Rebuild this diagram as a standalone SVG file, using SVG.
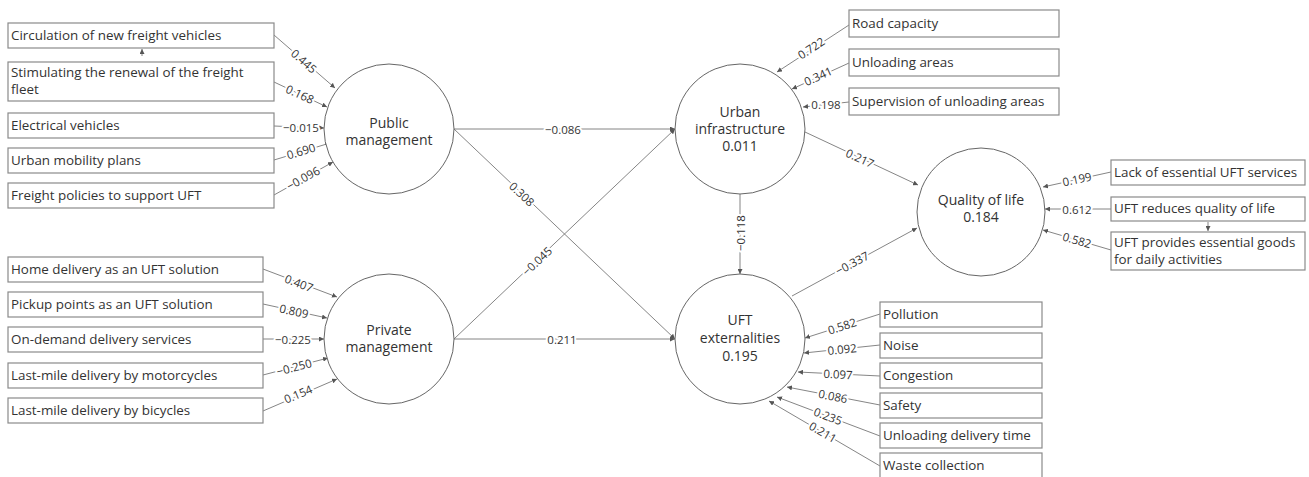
<svg xmlns="http://www.w3.org/2000/svg" width="1309" height="477" viewBox="0 0 1309 477">
<defs>
<marker id="ah" viewBox="0 0 10 10" refX="10" refY="5" markerWidth="5" markerHeight="5" markerUnits="userSpaceOnUse" orient="auto">
<path d="M0,0 L10,5 L0,10 z" fill="#555"/>
</marker>
</defs>
<style>
.box{fill:#fff;stroke:#8a8a8a;stroke-width:1.2}
.lv{fill:#fff;stroke:#666;stroke-width:1}
.bt{font-family:"Open Sans","Liberation Sans",sans-serif;font-size:13.4px;fill:#333}
.ct{font-family:"Open Sans","Liberation Sans",sans-serif;font-size:14px;fill:#333;text-anchor:middle}
.ln{stroke:#777;stroke-width:0.9;fill:none;marker-end:url(#ah)}
.lb{font-family:"Open Sans","Liberation Sans",sans-serif;font-size:11.5px;fill:#333;text-anchor:middle;dominant-baseline:central;stroke:#fff;stroke-width:4;paint-order:stroke;stroke-linejoin:round}
</style>
<rect width="1309" height="477" fill="#fff"/>

<g id="connectors">
<!-- Public management indicators -->
<line class="ln" x1="274" y1="35" x2="335" y2="88"/>
<line class="ln" x1="274" y1="82" x2="327" y2="107"/>
<line class="ln" x1="274" y1="126" x2="324" y2="128"/>
<line class="ln" x1="274" y1="160" x2="330" y2="143"/>
<line class="ln" x1="274" y1="195" x2="333" y2="162"/>
<line class="ln" x1="142" y1="56" x2="142" y2="49"/>
<!-- Private management indicators -->
<line class="ln" x1="263" y1="269" x2="337" y2="297"/>
<line class="ln" x1="263" y1="304" x2="327" y2="318"/>
<line class="ln" x1="263" y1="339" x2="324" y2="339"/>
<line class="ln" x1="263" y1="375" x2="328" y2="358"/>
<line class="ln" x1="263" y1="411" x2="337" y2="379"/>
<!-- structural paths -->
<line class="ln" x1="454" y1="129" x2="675" y2="129"/>
<line class="ln" x1="454" y1="129" x2="675" y2="339"/>
<line class="ln" x1="454" y1="339" x2="675" y2="129"/>
<line class="ln" x1="454" y1="339" x2="675" y2="339"/>
<line class="ln" x1="740" y1="194" x2="740" y2="274"/>
<line class="ln" x1="805" y1="132" x2="918" y2="185"/>
<line class="ln" x1="792" y1="296" x2="917" y2="228"/>
<!-- Urban infrastructure indicators -->
<line class="ln" x1="849" y1="25" x2="777" y2="72"/>
<line class="ln" x1="849" y1="63" x2="792" y2="89"/>
<line class="ln" x1="849" y1="102" x2="803" y2="107"/>
<!-- UFT externalities indicators -->
<line class="ln" x1="880" y1="314" x2="805" y2="338"/>
<line class="ln" x1="880" y1="345" x2="804" y2="353"/>
<line class="ln" x1="880" y1="376" x2="798" y2="372"/>
<line class="ln" x1="880" y1="405" x2="787" y2="387"/>
<line class="ln" x1="880" y1="436" x2="777" y2="397"/>
<line class="ln" x1="880" y1="466" x2="769" y2="401"/>
<!-- Quality of life indicators -->
<line class="ln" x1="1111" y1="172" x2="1043" y2="187"/>
<line class="ln" x1="1111" y1="209" x2="1045" y2="209"/>
<line class="ln" x1="1111" y1="250" x2="1043" y2="230"/>
<line class="ln" x1="1208" y1="222" x2="1208" y2="231"/>

<!-- labels -->
<text class="lb" transform="translate(304,61) rotate(41)">0.445</text>
<text class="lb" transform="translate(300,94) rotate(25)">0.168</text>
<text class="lb" transform="translate(301,127)">−0.015</text>
<text class="lb" transform="translate(301,151) rotate(-17)">0.690</text>
<text class="lb" transform="translate(303,178) rotate(-29)">−0.096</text>
<text class="lb" transform="translate(299,283) rotate(21)">0.407</text>
<text class="lb" transform="translate(294,311) rotate(12)">0.809</text>
<text class="lb" transform="translate(293,339)">−0.225</text>
<text class="lb" transform="translate(294,367) rotate(-15)">−0.250</text>
<text class="lb" transform="translate(298,394) rotate(-23)">0.154</text>
<text class="lb" transform="translate(563,129)">−0.086</text>
<text class="lb" transform="translate(522,194) rotate(43.5)">0.308</text>
<text class="lb" transform="translate(537,261) rotate(-43.5)">−0.045</text>
<text class="lb" transform="translate(562,339)">0.211</text>
<text class="lb" transform="translate(740,233) rotate(-90)">−0.118</text>
<text class="lb" transform="translate(860,158) rotate(25)">0.217</text>
<text class="lb" transform="translate(852,263) rotate(-28.5)">−0.337</text>
<text class="lb" transform="translate(811,48) rotate(-33)">0.722</text>
<text class="lb" transform="translate(818,76) rotate(-24.5)">0.341</text>
<text class="lb" transform="translate(826,104)">0.198</text>
<text class="lb" transform="translate(842,326) rotate(-17.7)">0.582</text>
<text class="lb" transform="translate(842,349) rotate(-6)">0.092</text>
<text class="lb" transform="translate(838,374) rotate(3)">0.097</text>
<text class="lb" transform="translate(833,396) rotate(11)">0.086</text>
<text class="lb" transform="translate(828,416) rotate(21)">0.235</text>
<text class="lb" transform="translate(823,432) rotate(30)">0.211</text>
<text class="lb" transform="translate(1077,179) rotate(-12)">0.199</text>
<text class="lb" transform="translate(1077,209)">0.612</text>
<text class="lb" transform="translate(1077,240) rotate(16)">0.582</text>
</g>

<!-- Public management indicators -->
<g id="pm1"><rect class="box" x="8" y="23" width="266" height="25"/><text class="bt" x="11" y="40">Circulation of new freight vehicles</text></g>
<g id="pm2"><rect class="box" x="8" y="62" width="266" height="39"/><text class="bt" x="11" y="77">Stimulating the renewal of the freight</text><text class="bt" x="11" y="94">fleet</text></g>
<g id="pm3"><rect class="box" x="8" y="113" width="266" height="25"/><text class="bt" x="11" y="130">Electrical vehicles</text></g>
<g id="pm4"><rect class="box" x="8" y="148" width="266" height="25"/><text class="bt" x="11" y="165">Urban mobility plans</text></g>
<g id="pm5"><rect class="box" x="8" y="183" width="266" height="25"/><text class="bt" x="11" y="200">Freight policies to support UFT</text></g>

<!-- Private management indicators -->
<g id="pr1"><rect class="box" x="8" y="257" width="255" height="25"/><text class="bt" x="11" y="274">Home delivery as an UFT solution</text></g>
<g id="pr2"><rect class="box" x="8" y="292" width="255" height="25"/><text class="bt" x="11" y="309">Pickup points as an UFT solution</text></g>
<g id="pr3"><rect class="box" x="8" y="327" width="255" height="25"/><text class="bt" x="11" y="344">On-demand delivery services</text></g>
<g id="pr4"><rect class="box" x="8" y="363" width="255" height="25"/><text class="bt" x="11" y="380">Last-mile delivery by motorcycles</text></g>
<g id="pr5"><rect class="box" x="8" y="398" width="255" height="25"/><text class="bt" x="11" y="415">Last-mile delivery by bicycles</text></g>

<!-- Latent variables -->
<g id="public-management"><circle class="lv" cx="389" cy="129" r="65"/><text class="ct" x="389" y="128">Public</text><text class="ct" x="389" y="145">management</text></g>
<g id="private-management"><circle class="lv" cx="389" cy="339" r="65"/><text class="ct" x="389" y="335">Private</text><text class="ct" x="389" y="352">management</text></g>
<g id="urban-infrastructure"><circle class="lv" cx="740" cy="129" r="65"/><text class="ct" x="740" y="117">Urban</text><text class="ct" x="740" y="134">infrastructure</text><text class="ct" x="740" y="151">0.011</text></g>
<g id="uft-externalities"><circle class="lv" cx="740" cy="339" r="65"/><text class="ct" x="740" y="325">UFT</text><text class="ct" x="740" y="343">externalities</text><text class="ct" x="740" y="361">0.195</text></g>
<g id="quality-of-life"><circle class="lv" cx="981" cy="212" r="64"/><text class="ct" x="981" y="205">Quality of life</text><text class="ct" x="981" y="222">0.184</text></g>

<!-- Urban infrastructure indicators -->
<g id="ui1"><rect class="box" x="849" y="10" width="210" height="27"/><text class="bt" x="852" y="28">Road capacity</text></g>
<g id="ui2"><rect class="box" x="849" y="49" width="210" height="27"/><text class="bt" x="852" y="67">Unloading areas</text></g>
<g id="ui3"><rect class="box" x="849" y="88" width="210" height="27"/><text class="bt" x="852" y="106">Supervision of unloading areas</text></g>

<!-- UFT externalities indicators -->
<g id="ue1"><rect class="box" x="880" y="302" width="162" height="25"/><text class="bt" x="883" y="319">Pollution</text></g>
<g id="ue2"><rect class="box" x="880" y="333" width="162" height="25"/><text class="bt" x="883" y="350">Noise</text></g>
<g id="ue3"><rect class="box" x="880" y="363" width="162" height="25"/><text class="bt" x="883" y="380">Congestion</text></g>
<g id="ue4"><rect class="box" x="880" y="393" width="162" height="25"/><text class="bt" x="883" y="410">Safety</text></g>
<g id="ue5"><rect class="box" x="880" y="423" width="162" height="25"/><text class="bt" x="883" y="440">Unloading delivery time</text></g>
<g id="ue6"><rect class="box" x="880" y="453" width="162" height="25"/><text class="bt" x="883" y="470">Waste collection</text></g>

<!-- Quality of life indicators -->
<g id="ql1"><rect class="box" x="1111" y="160" width="194" height="25"/><text class="bt" x="1114" y="177">Lack of essential UFT services</text></g>
<g id="ql2"><rect class="box" x="1111" y="197" width="194" height="24"/><text class="bt" x="1114" y="213">UFT reduces quality of life</text></g>
<g id="ql3"><rect class="box" x="1111" y="232" width="194" height="38"/><text class="bt" x="1114" y="247">UFT provides essential goods</text><text class="bt" x="1114" y="264">for daily activities</text></g>
</svg>
